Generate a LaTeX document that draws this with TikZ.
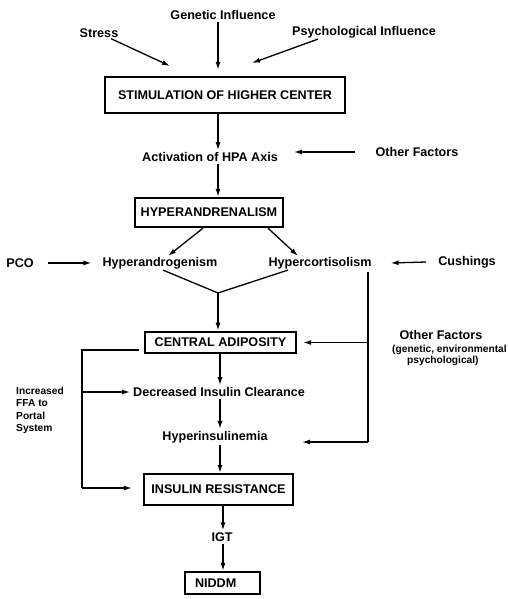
\documentclass[tikz,border=0pt]{standalone}
\usepackage{fontspec}
\setmainfont{Liberation Sans}
\usetikzlibrary{arrows.meta}
\begin{document}
\begin{tikzpicture}[x=1pt,y=-1pt,
  every node/.style={font=\fontsize{12.6}{14}\selectfont\bfseries, inner sep=2pt},
  small/.style={font=\fontsize{10.2}{12.5}\selectfont\bfseries},
  boxed/.style={draw, line width=2.4pt, inner sep=0pt},
  conn/.style={line width=1.3pt},
  arr/.style={conn, -{Latex[length=8pt,width=5pt]}}]
\useasboundingbox (0,0) rectangle (508,599);

% vertical spine of the main chain
\coordinate (spine) at (218,0);

% top influences
\node (stress) at (99,33) {Stress};
\node (genetic) at (223,15) {Genetic Influence};
\node (psych) at (364,32) {Psychological Influence};

\node[boxed, minimum width=240pt, minimum height=36pt] (stim) at (225,95) {STIMULATION OF HIGHER CENTER};

\coordinate (stressend) at (170,66);
\coordinate (psychend) at (252,63);
\draw[arr] ([xshift=12pt,yshift=1pt]stress.south) -- (stressend);
\draw[arr] (genetic.south -| spine) -- ([yshift=6pt]stim.north -| spine);
\draw[arr] ([xshift=-46pt,yshift=1pt]psych.south) -- (psychend);

% HPA axis
\node (act) at (210,157) {Activation of HPA Axis};
\node (of1) at (417,152) {Other Factors};
\draw[arr] (stim.south -| spine) -- (act.north -| spine);
\draw[arr] ([xshift=-18pt]of1.west) -- ([xshift=14pt]of1.west -| act.east);

\node[boxed, minimum width=148pt, minimum height=29pt] (hyper) at (209,212.5) {HYPERANDRENALISM};
\draw[arr] (act.south -| spine) -- (hyper.north -| spine);

% androgen / cortisol branches
\node (pco) at (20,263) {PCO};
\node (handro) at (160,263) {Hyperandrogenism};
\node (hcort) at (320,263) {Hypercortisolism};
\node (cush) at (467,262) {Cushings};

\draw[arr] ([xshift=-6pt]hyper.south) -- ([xshift=8pt,yshift=-1pt]handro.north);
\draw[arr] ([xshift=59pt]hyper.south) -- ([xshift=-22pt,yshift=-1pt]hcort.north);
\draw[arr] ([xshift=12pt]pco.east) -- ([xshift=-9pt]handro.west);
\draw[arr] ([xshift=-10pt]cush.west) -- ([xshift=17pt]hcort.east);

\coordinate (merge) at (218,293);
\draw[conn] ([xshift=3pt,yshift=1pt]handro.south) -- (merge) -- ([xshift=-32pt,yshift=1pt]hcort.south);

\node[boxed, minimum width=151pt, minimum height=21.5pt] (ca) at (220.5,342.5) {CENTRAL ADIPOSITY};
\draw[arr] (merge) -- (ca.north -| spine);

% right-hand bracket: other factors
\coordinate (rtop) at (368,272);
\coordinate (rbot) at (368,442);
\coordinate (rend) at (302,442);
\node (of2) at (441,335) {Other Factors};
\node[small, anchor=west, inner sep=0pt] (of2a) at (392,350) {(genetic, environmental};
\node[small, anchor=west, inner sep=0pt] (of2b) at (407,361) {psychological)};

% insulin chain
\node (dic) at (219,392) {Decreased Insulin Clearance};
\node (hins) at (215,437) {Hyperinsulinemia};
\node[boxed, minimum width=149pt, minimum height=31pt] (ir) at (218.5,489.5) {INSULIN RESISTANCE};
\node (igt) at (222,537) {IGT};
\node[boxed, minimum width=75pt, minimum height=22pt, text width=75pt, align=left] (niddm) at (222.5,583) {\hspace*{10pt}NIDDM};

\coordinate (spine2) at (220,0);
\coordinate (spine3) at (223,0);
\draw[arr] ([yshift=2pt]ca.south -| spine2) -- (dic.north -| spine2);
\draw[arr] (dic.south -| spine2) -- (hins.north -| spine2);
\draw[arr] (hins.south -| spine2) -- (ir.north -| spine2);
\draw[arr] ([yshift=1pt]ir.south -| spine3) -- (igt.north -| spine3);
\draw[arr] (igt.south -| spine3) -- (niddm.north -| spine3);

% right bracket connectors
\draw[conn] (rtop) -- (rbot);
\draw[arr] (rtop |- ca.east) -- ([xshift=6pt]ca.east);
\draw[arr] (rbot) -- (rend);

% left loop: increased FFA to portal system
\coordinate (lcorner) at (82,350);
\coordinate (lbot) at (82,488);
\node[small, align=left, anchor=west, inner sep=0pt] (ffa) at (16,410.5) {Increased\\FFA to\\Portal\\System};
\draw[conn] ([xshift=-5pt]ca.west |- lcorner) -- (lcorner) -- (lbot);
\draw[arr] (lbot) -- ([xshift=-11pt]ir.west |- lbot);
\draw[arr] (lcorner |- dic.west) -- ([xshift=-1pt]dic.west);
\end{tikzpicture}
\end{document}
